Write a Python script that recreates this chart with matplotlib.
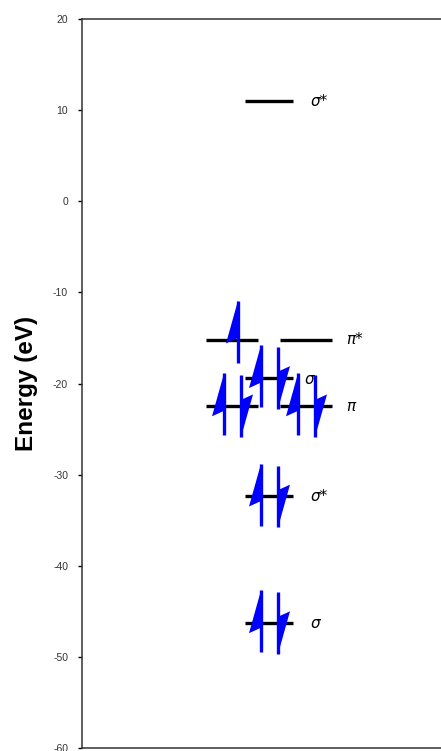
import matplotlib
matplotlib.use("Agg")
import matplotlib.pyplot as plt

# orbital levels (eV), column of the diagram, electrons, label
energies = [11.0, -15.2, -15.2, -19.4, -22.5, -22.5, -32.4, -46.3]
columns = ["center", "left", "right", "center", "left", "right", "center", "center"]
electrons = [0, 1, 0, 2, 2, 2, 2, 2]
labels = ["σ*", "", "π*", "σ", "", "π", "σ*", "σ"]

yticks = [20, 10, 0, -10, -20, -30, -40, -50, -60]

# x positions in pixel-ish units measured from the left spine
col_x = {"center": 187, "left": 150, "right": 224}
col_w = {"center": 48, "left": 52, "right": 52}

W, H = 441, 751
fig = plt.figure(figsize=(W / 100, H / 100), dpi=100)
ax = fig.add_axes([82 / W, 3 / H, 370 / W, 729 / H])
ax.set_xlim(0, 370)
ax.set_ylim(-60, 20)

blue = "#0000ff"
half = 3.4     # half arrow length in eV
barb = 4.7     # barb length in eV
back = 4.1


def arrow(x, e, up):
    if up:
        top = e + half
        ax.plot([x, x], [e - half, top], color=blue, lw=2.4, solid_capstyle="butt", zorder=3)
        ax.fill([x, x - 12, x], [top, top - barb, top - back], color=blue, lw=0, zorder=3)
    else:
        bot = e - half
        ax.plot([x, x], [e + half, bot], color=blue, lw=2.4, solid_capstyle="butt", zorder=3)
        ax.fill([x, x + 12, x], [bot, bot + barb, bot + back], color=blue, lw=0, zorder=3)


for e, c, n, lab in zip(energies, columns, electrons, labels):
    xc = col_x[c]
    w = col_w[c]
    ax.plot([xc - w / 2, xc + w / 2], [e, e], color="black", lw=2.4, solid_capstyle="butt", zorder=2)
    if n == 1:
        arrow(xc + 6, e + 0.9, True)
    elif n == 2:
        arrow(xc - 8, e + 0.2, True)
        arrow(xc + 9, e, False)
    if lab:
        if c == "center" and e == -19.4:
            ax.text(xc + 36, e - 0.2, lab, fontsize=11, style="italic", va="center", ha="left")
        elif c == "center":
            ax.text(xc + 42, e, lab, fontsize=11, style="italic", va="center", ha="left")
        else:
            ax.text(xc + 40, e, lab, fontsize=11, style="italic", va="center", ha="left")

ax.set_yticks(yticks)
ax.set_yticklabels([str(t) for t in yticks], fontsize=7.5, family="Liberation Sans", color="#333333")
ax.set_xticks([])
ax.tick_params(axis="y", direction="out", length=3, width=1, pad=7)
for s in ax.spines.values():
    s.set_linewidth(1.1)
    s.set_color("#333333")
ax.spines["right"].set_visible(False)

ax.set_ylabel("Energy (eV)", fontsize=17.5, fontweight="bold", family="Liberation Sans", labelpad=11)

fig.savefig("out.png", dpi=100)
